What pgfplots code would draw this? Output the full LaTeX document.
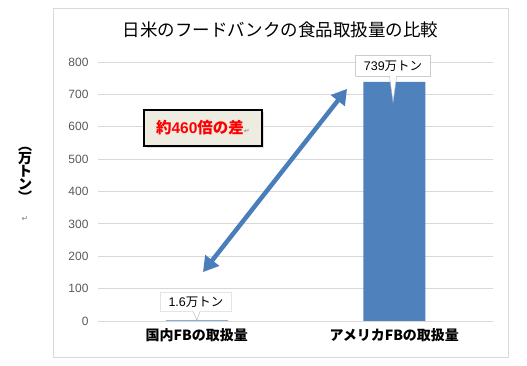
\documentclass[border=0pt]{standalone}
\usepackage{fontspec}
\usepackage{pgfplots}
\pgfplotsset{compat=1.18}
\usetikzlibrary{arrows.meta,shapes.callouts,shadows}
\setmainfont{Noto Sans CJK JP}
\newfontfamily\lat{Liberation Sans}
\newfontfamily\dejavu{DejaVu Sans}
\definecolor{barblue}{HTML}{4F81BD}
\definecolor{arrblue}{HTML}{4A7EBB}
\definecolor{gridgray}{HTML}{D9D9D9}
\definecolor{ticktext}{HTML}{595959}
\definecolor{boxfill}{HTML}{EEECE1}
\begin{document}
\begin{tikzpicture}
\useasboundingbox (0,0) rectangle (527bp,366bp);
\draw[gridgray, line width=0.8bp] (53bp,9bp) rectangle (508bp,358bp);
\node[font=\fontsize{17.5bp}{20bp}\selectfont] at (280.5bp,336bp) {日米のフードバンクの食品取扱量の比較};
\node[font=\fontsize{14bp}{14bp}\selectfont\bfseries, align=center, inner sep=0pt] at (25bp,191bp) {︵\\[-1bp]万\\[-1bp]ト\\[-1bp]ン\\[-1bp]︶};
\node[font=\dejavu\fontsize{8bp}{8bp}\selectfont, text=gray, inner sep=0pt] at (25bp,147bp) {↵};
\begin{axis}[
  at={(98bp,45bp)}, anchor=south west,
  scale only axis, width=395bp, height=259bp,
  xmin=-0.5, xmax=1.5, ymin=0, ymax=800,
  ytick={0,100,...,800},
  xtick={0,1},
  xticklabels={国内FBの取扱量, アメリカFBの取扱量},
  x tick label style={font=\fontsize{14bp}{14bp}\selectfont\bfseries, yshift=-4bp},
  y tick label style={font=\lat\fontsize{12bp}{12bp}\selectfont, text=ticktext, xshift=-6bp},
  /pgf/number format/assume math mode=true,
  major tick length=0pt,
  ymajorgrids, grid style={gridgray, line width=0.8bp},
  axis line style={draw=none},
  clip=false,
  ybar, bar width=62bp,
]
\addplot[fill=barblue, draw=none] coordinates {(0,1.6) (1,739)};
\draw[gridgray, line width=0.8bp] (axis cs:-0.5,0) -- (axis cs:1.5,0);
\draw[arrblue, line width=4.5bp, {Triangle[length=15bp,width=17bp]}-{Triangle[length=15bp,width=17bp]}]
  (axis cs:0.0316,151) -- (axis cs:0.761,717);
\node[draw=black, line width=2.2bp, fill=boxfill, minimum width=118bp, minimum height=36bp,
  drop shadow={shadow xshift=2bp, shadow yshift=-2bp, fill=gray!50},
  font=\fontsize{15.5bp}{16bp}\selectfont\bfseries, text=red] at (axis cs:0.0316,596)
  {約\lat\bfseries 460\normalfont\fontsize{15.5bp}{16bp}\selectfont\bfseries 倍の差{\dejavu\mdseries\fontsize{7bp}{7bp}\selectfont\color{gray}↵}};
\node[rectangle callout, callout absolute pointer={(axis cs:0.001,3)}, draw=gray!60, fill=white,
  minimum width=71bp, minimum height=19bp, inner sep=1bp,
  font=\fontsize{12.5bp}{13bp}\selectfont] at (axis cs:-0.004,58.7) {{\lat 1.6}万トン};
\node[rectangle callout, callout absolute pointer={(axis cs:0.994,676)}, draw=gray!60, fill=white,
  minimum width=75bp, minimum height=21bp, inner sep=1bp,
  font=\fontsize{12.5bp}{13bp}\selectfont] at (axis cs:0.994,788) {{\lat 739}万トン};
\end{axis}
\end{tikzpicture}
\end{document}
